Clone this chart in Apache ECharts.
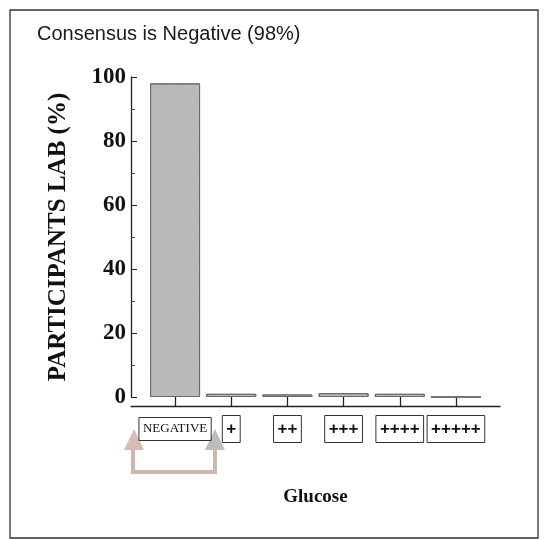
<!DOCTYPE html>
<html><head><meta charset="utf-8">
<script src="https://cdn.jsdelivr.net/npm/echarts@6/dist/echarts.min.js"></script>
<style>html,body{margin:0;padding:0;background:#fff}#c{width:545px;height:540px}</style>
</head><body><div id="c"></div>
<script>
const categories = ['NEGATIVE', '+', '++', '+++', '++++', '+++++'];
const values = [98, 1, 0.8, 1.2, 1, 0];
const yTicks = [0, 20, 40, 60, 80, 100];
const titleText = 'Consensus is Negative (98%)';
const yName = 'PARTICIPANTS LAB (%)';
const xName = 'Glucose';

const chart = echarts.init(document.getElementById('c'), null, {renderer: 'canvas'});
const serif = '"Liberation Serif", "DejaVu Serif", serif';
const sans = '"Liberation Sans", Arial, sans-serif';
const box = {borderColor: '#333', borderWidth: 1, lineHeight: 16, color: '#111'};
chart.setOption({
  animation: false,
  backgroundColor: '#fff',
  title: {text: titleText, left: 32, top: 19,
    textStyle: {fontFamily: sans, fontSize: 20, fontWeight: 'normal', color: '#1a1a1a', letterSpacing: 0.9}},
  grid: [
    {left: 147, right: 61, top: 77, bottom: 143},
    {left: 131, right: 45, top: 77, bottom: 143}
  ],
  xAxis: [
    {
      type: 'category', data: categories, gridIndex: 0, offset: 9,
      axisLine: {show: false, onZero: false},
      axisTick: {show: true, inside: true, length: 9, alignWithLabel: true, lineStyle: {color: '#222', width: 1.3}},
      name: xName, nameLocation: 'middle', nameGap: 82,
      nameTextStyle: {fontFamily: serif, fontSize: 19, fontWeight: 'bold', color: '#111', letterSpacing: -1.2, verticalAlign: 'top'},
      axisLabel: {
        interval: 0, margin: 15,
        formatter: v => v === 'NEGATIVE' ? '{n|' + v + '}' : '{p|' + v + '}',
        rich: {
          n: Object.assign({fontFamily: serif, fontSize: 13, fontWeight: 'normal', padding: [5, 4, 5, 4]}, box),
          p: Object.assign({fontFamily: sans, fontSize: 17, fontWeight: 'bold', padding: [5, 4, 5, 4]}, box)
        }
      }
    },
    {
      type: 'value', gridIndex: 1, min: 0, max: 1, offset: 9,
      axisLine: {show: true, onZero: false, lineStyle: {color: '#222', width: 1.3}},
      axisTick: {show: false}, axisLabel: {show: false}, splitLine: {show: false}
    }
  ],
  yAxis: [
    {type: 'value', gridIndex: 0, min: 0, max: 100, interval: 20, show: false},
    {
      type: 'value', gridIndex: 1, min: 0, max: 100, interval: 20,
      name: yName, nameLocation: 'middle', nameGap: 60, nameRotate: 90,
      nameTextStyle: {fontFamily: serif, fontSize: 25, fontWeight: 'bold', color: '#111'},
      axisLine: {show: true, onZero: false, lineStyle: {color: '#222', width: 1.3}},
      axisTick: {show: true, inside: true, length: 6, lineStyle: {color: '#222'}},
      minorTick: {show: true, splitNumber: 2, length: 4, lineStyle: {color: '#444'}},
      splitLine: {show: false},
      axisLabel: {margin: 5, fontFamily: serif, fontSize: 23, fontWeight: 'bold', color: '#111',
        formatter: v => yTicks.includes(v) ? String(v) : ''}
    }
  ],
  series: [{
    type: 'bar', data: values, barWidth: 50, xAxisIndex: 0, yAxisIndex: 0,
    itemStyle: {
      color: '#b9b9b9', borderColor: '#6a6a6a', borderWidth: 1,
      decal: {symbol: 'rect', symbolSize: 0.5, color: 'rgba(255,255,255,0.35)', dashArrayX: [[2, 5], [3, 4]], dashArrayY: [1, 3], rotation: 1.2}
    }
  }],
  graphic: [
    {type: 'rect', shape: {x: 10, y: 10, width: 528, height: 528}, style: {fill: 'none', stroke: '#333', lineWidth: 1.3}, silent: true},
    {type: 'polyline', shape: {points: [[133, 448], [133, 472], [215, 472], [215, 448]]}, style: {fill: 'none', stroke: '#cfb6ae', lineWidth: 4}, silent: true},
    {type: 'polygon', shape: {points: [[124, 450], [134, 429], [144, 450]]}, style: {fill: '#d6bdb5'}, silent: true},
    {type: 'polygon', shape: {points: [[205, 450], [215, 429], [225, 450]]}, style: {fill: '#bdbdbd'}, silent: true}
  ]
});
</script></body></html>
